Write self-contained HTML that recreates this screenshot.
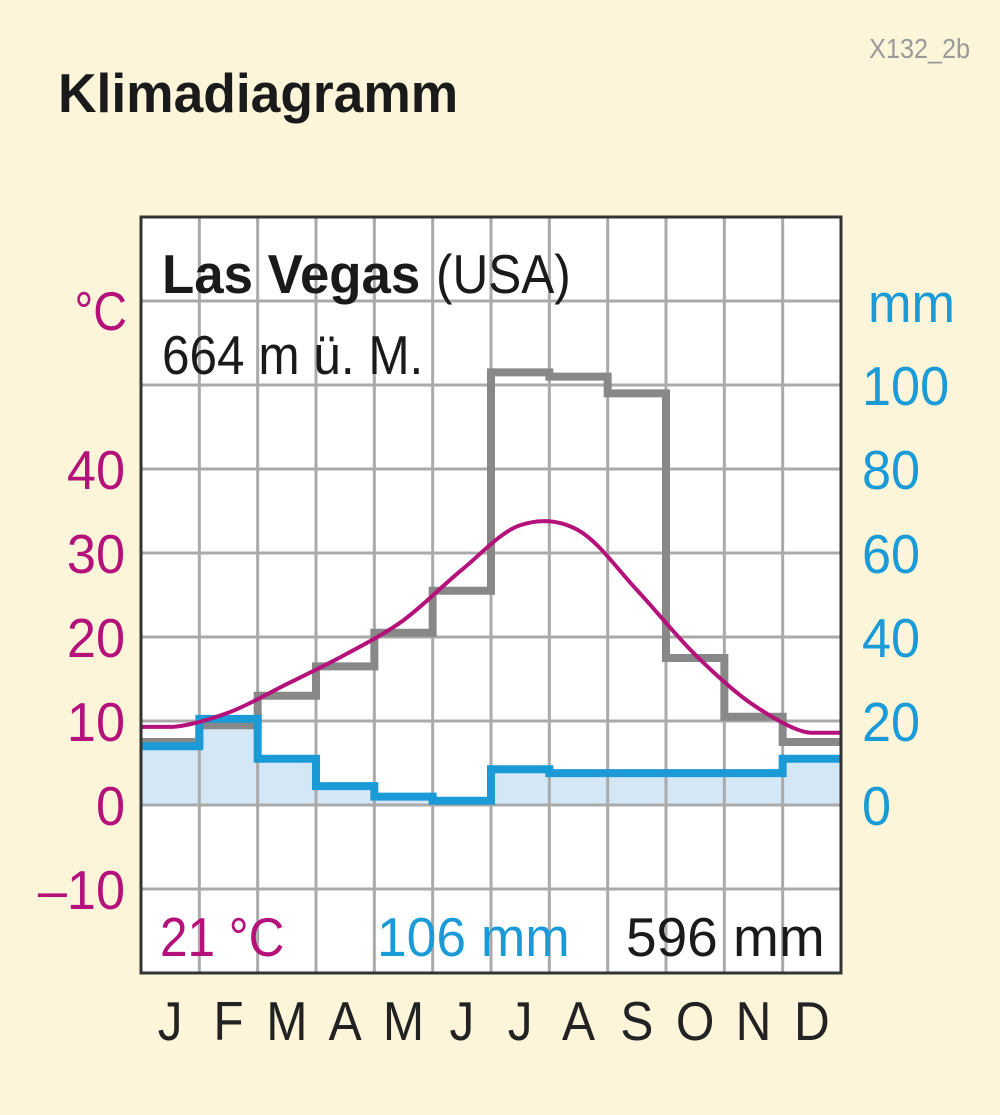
<!DOCTYPE html>
<html><head><meta charset="utf-8"><style>
html,body{margin:0;padding:0;background:#fdf5d9;}
svg{display:block;font-family:"Liberation Sans",sans-serif;}
</style></head><body>
<svg id="chart" width="1000" height="1115" viewBox="0 0 1000 1115">
<rect x="0" y="0" width="1000" height="1115" fill="#fdf5d9"/>
<text transform="translate(970,58) scale(0.9,1)" text-anchor="end" font-size="28" fill="#999">X132_2b</text>
<text transform="translate(58,112) scale(0.97,1)" font-size="55" font-weight="bold" fill="#1a1a1a">Klimadiagramm</text>
<g id="plot"></g>
</svg>
<script>
const months=['J','F','M','A','M','J','J','A','S','O','N','D'];
const tempC=[9.3,11,14.4,17.9,22,28,33.3,32.7,25.6,17.9,11.9,8.6];
const precipMm=[14,20.5,11,4.5,2,1,8.5,7.6,7.6,7.6,7.6,11];
const evapMm=[15,19,26,33,41,51,103,102,98,35,21,15];
const tempTicks=[-10,0,10,20,30,40];
const mmTicks=[0,20,40,60,80,100];

const NS='http://www.w3.org/2000/svg';
const g=document.getElementById('plot');
const L=141,R=841,T=217,B=973;
const colW=(R-L)/12;
const xM=i=>L+colW*i;
const yT=t=>805-8.4*t;
const yP=m=>805-4.2*m;
function mk(tag,attrs,parent){const e=document.createElementNS(NS,tag);for(const k in attrs)e.setAttribute(k,attrs[k]);(parent||g).appendChild(e);return e;}

const bg=mk('rect',{x:L,y:T,width:R-L,height:B-T,fill:'#fff'});



let stepP='M'+L+','+yP(0);
precipMm.forEach((v,i)=>{stepP+=' L'+xM(i)+','+yP(v)+' L'+xM(i+1)+','+yP(v);});
stepP+=' L'+R+','+yP(0)+' Z';
const fill=mk('path',{d:stepP,fill:'#d4e7f6'});



for(let i=1;i<12;i++){const l=mk('line',{x1:xM(i),y1:T,x2:xM(i),y2:B,stroke:'#aaa','stroke-width':3});

}
for(let t=-10;t<=60;t+=10){const l=mk('line',{x1:L,y1:yT(t),x2:R,y2:yT(t),stroke:'#aaa','stroke-width':3});

}

function stepLine(arr,scale){let d='';arr.forEach((v,i)=>{d+=(i?' L':'M')+xM(i)+','+scale(v)+' L'+xM(i+1)+','+scale(v);});return d;}
const ev=mk('path',{d:stepLine(evapMm,yP),fill:'none',stroke:'#888','stroke-width':8});


const pr=mk('path',{d:stepLine(precipMm,yP),fill:'none',stroke:'#1a9ad6','stroke-width':8});



const pts=[[L,yT(tempC[0])]];
tempC.forEach((v,i)=>pts.push([xM(i)+colW/2,yT(v)]));
pts.push([R,yT(tempC[11])]);
let d='M'+pts[0][0]+','+pts[0][1];
const n=pts.length;
for(let i=0;i<n-1;i++){const p0=pts[Math.max(0,i-1)],p1=pts[i],p2=pts[i+1],p3=pts[Math.min(n-1,i+2)];
let c1x=p1[0]+(p2[0]-p0[0])/6,c1y=p1[1]+(p2[1]-p0[1])/6;
let c2x=p2[0]-(p3[0]-p1[0])/6,c2y=p2[1]-(p3[1]-p1[1])/6;
if(i===0||i===1){c1y=p1[1];}
if(i===0){c2y=p2[1];}
if(i===n-2||i===n-3){c2y=p2[1];}
if(i===n-2){c1y=p1[1];}
d+=' C'+c1x+','+c1y+' '+c2x+','+c2y+' '+p2[0]+','+p2[1];}
const tl=mk('path',{d:d,fill:'none',stroke:'#b5117a','stroke-width':4});



const bd=mk('rect',{x:L,y:T,width:R-L,height:B-T,fill:'none',stroke:'#333','stroke-width':3});



function txt(s,x,y,size,color,anchor,sx,weight){const e=mk('text',{transform:'translate('+x+','+y+') scale('+(sx||0.95)+',1)','font-size':size,fill:color,'text-anchor':anchor||'start','font-weight':weight||'normal'});e.textContent=s;return e;}
tempTicks.forEach(t=>{const e=txt(String(t).replace('-','\u2013'),125,yT(t)+20,55,'#b5117a','end');

});
mmTicks.forEach(m=>{const e=txt(String(m),862,yP(m)+20,55,'#1a9ad6','start');

});
months.forEach((m,i)=>{const e=txt(m,xM(i)+colW/2,1040,55,'#222','middle',0.9);

});
let e;
e=txt('\u00B0C',127,330,55,'#b5117a','end',0.85);


e=txt('mm',868,322,55,'#1a9ad6','start');


e=txt('Las Vegas',162,293,55,'#1a1a1a','start',0.96,'bold');


e=txt('(USA)',436,293,55,'#1a1a1a','start',0.9);


e=txt('664 m ü. M.',162,374,55,'#1a1a1a','start',0.9);


e=txt('21 °C',160,956,55,'#b5117a','start',0.9);


e=txt('106 mm',377,956,55,'#1a9ad6','start',0.97);


e=txt('596 mm',626,956,55,'#1a1a1a','start',1.0);


</script>
</body></html>
